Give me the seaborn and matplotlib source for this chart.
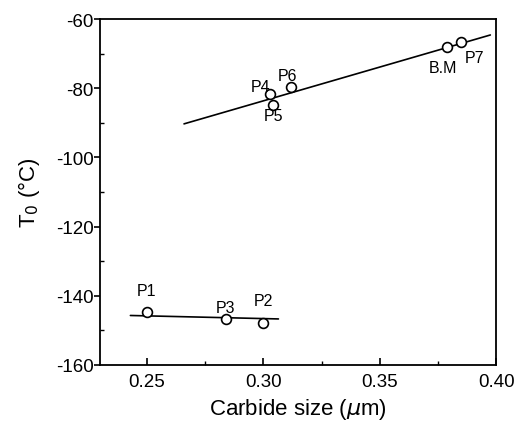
import matplotlib
matplotlib.use("Agg")
import matplotlib.pyplot as plt
import seaborn as sns
import numpy as np
import pandas as pd
from matplotlib.ticker import MultipleLocator

sns.set_theme(style="ticks")
plt.rcParams['font.family'] = ['Liberation Sans', 'DejaVu Sans']
plt.rcParams['axes.unicode_minus'] = False
plt.rcParams['text.color'] = 'black'
plt.rcParams['axes.labelcolor'] = 'black'
plt.rcParams['xtick.color'] = 'black'
plt.rcParams['ytick.color'] = 'black'

labels = ["P1", "P3", "P2", "P4", "P5", "P6", "B.M", "P7"]
size_um = [0.250, 0.284, 0.300, 0.303, 0.304, 0.312, 0.379, 0.385]
t0 = [-144.8, -146.7, -148.0, -81.7, -84.9, -79.7, -68.0, -66.7]

low_fit_x = [0.243, 0.3065]
low_fit_y = [-145.7, -146.7]
high_fit_x = [0.266, 0.3974]
high_fit_y = [-90.3, -64.6]

df = pd.DataFrame({"size": size_um, "t0": t0, "label": labels})

fig, ax = plt.subplots(figsize=(5.16, 4.27), dpi=100)
fig.subplots_adjust(left=0.194, right=0.962, top=0.953, bottom=0.143)

sns.lineplot(x=low_fit_x, y=low_fit_y, ax=ax, color="black", lw=1.2)
sns.lineplot(x=high_fit_x, y=high_fit_y, ax=ax, color="black", lw=1.2)
sns.scatterplot(data=df, x="size", y="t0", ax=ax, marker="o", s=50,
                facecolor="white", edgecolor="black", linewidth=1.2, zorder=3)

offsets = {"P1": (0, 15.8), "P3": (0, 7.9), "P2": (0, 16.5), "P4": (-7.2, 5.4),
           "P5": (0.7, -7.2), "P6": (-2.7, 8.6), "B.M": (-2.9, -15), "P7": (9.7, -10.8)}
for lab, x, y in zip(labels, size_um, t0):
    dx, dy = offsets[lab]
    ax.annotate(lab, (x, y), xytext=(dx, dy), textcoords="offset points",
                ha="center", va="center", fontsize=11.5, color="black")

ax.set_xlim(0.23, 0.40)
ax.set_ylim(-160, -60)
ax.set_xticks([0.25, 0.30, 0.35, 0.40])
ax.set_xticklabels(["0.25", "0.30", "0.35", "0.40"])
ax.set_yticks([-160, -140, -120, -100, -80, -60])
ax.xaxis.set_minor_locator(MultipleLocator(0.025))
ax.yaxis.set_minor_locator(MultipleLocator(10))
ax.tick_params(axis="x", which="major", direction="in", length=5, width=1.2, labelsize=13.5, pad=6)
ax.tick_params(axis="x", which="minor", direction="in", length=3, width=1)
ax.tick_params(axis="y", which="major", direction="out", length=4, width=1.2, labelsize=13.5, pad=0.5)
ax.tick_params(axis="y", which="minor", direction="in", length=3, width=1)
for s in ax.spines.values():
    s.set_linewidth(1.3)
    s.set_color("black")

ax.set_xlabel("Carbide size ($\\mu$m)", fontsize=16, labelpad=4)
ax.set_ylabel("T$_0$ (\u00b0C)", fontsize=16, labelpad=10)

fig.savefig("out.png", dpi=100)
